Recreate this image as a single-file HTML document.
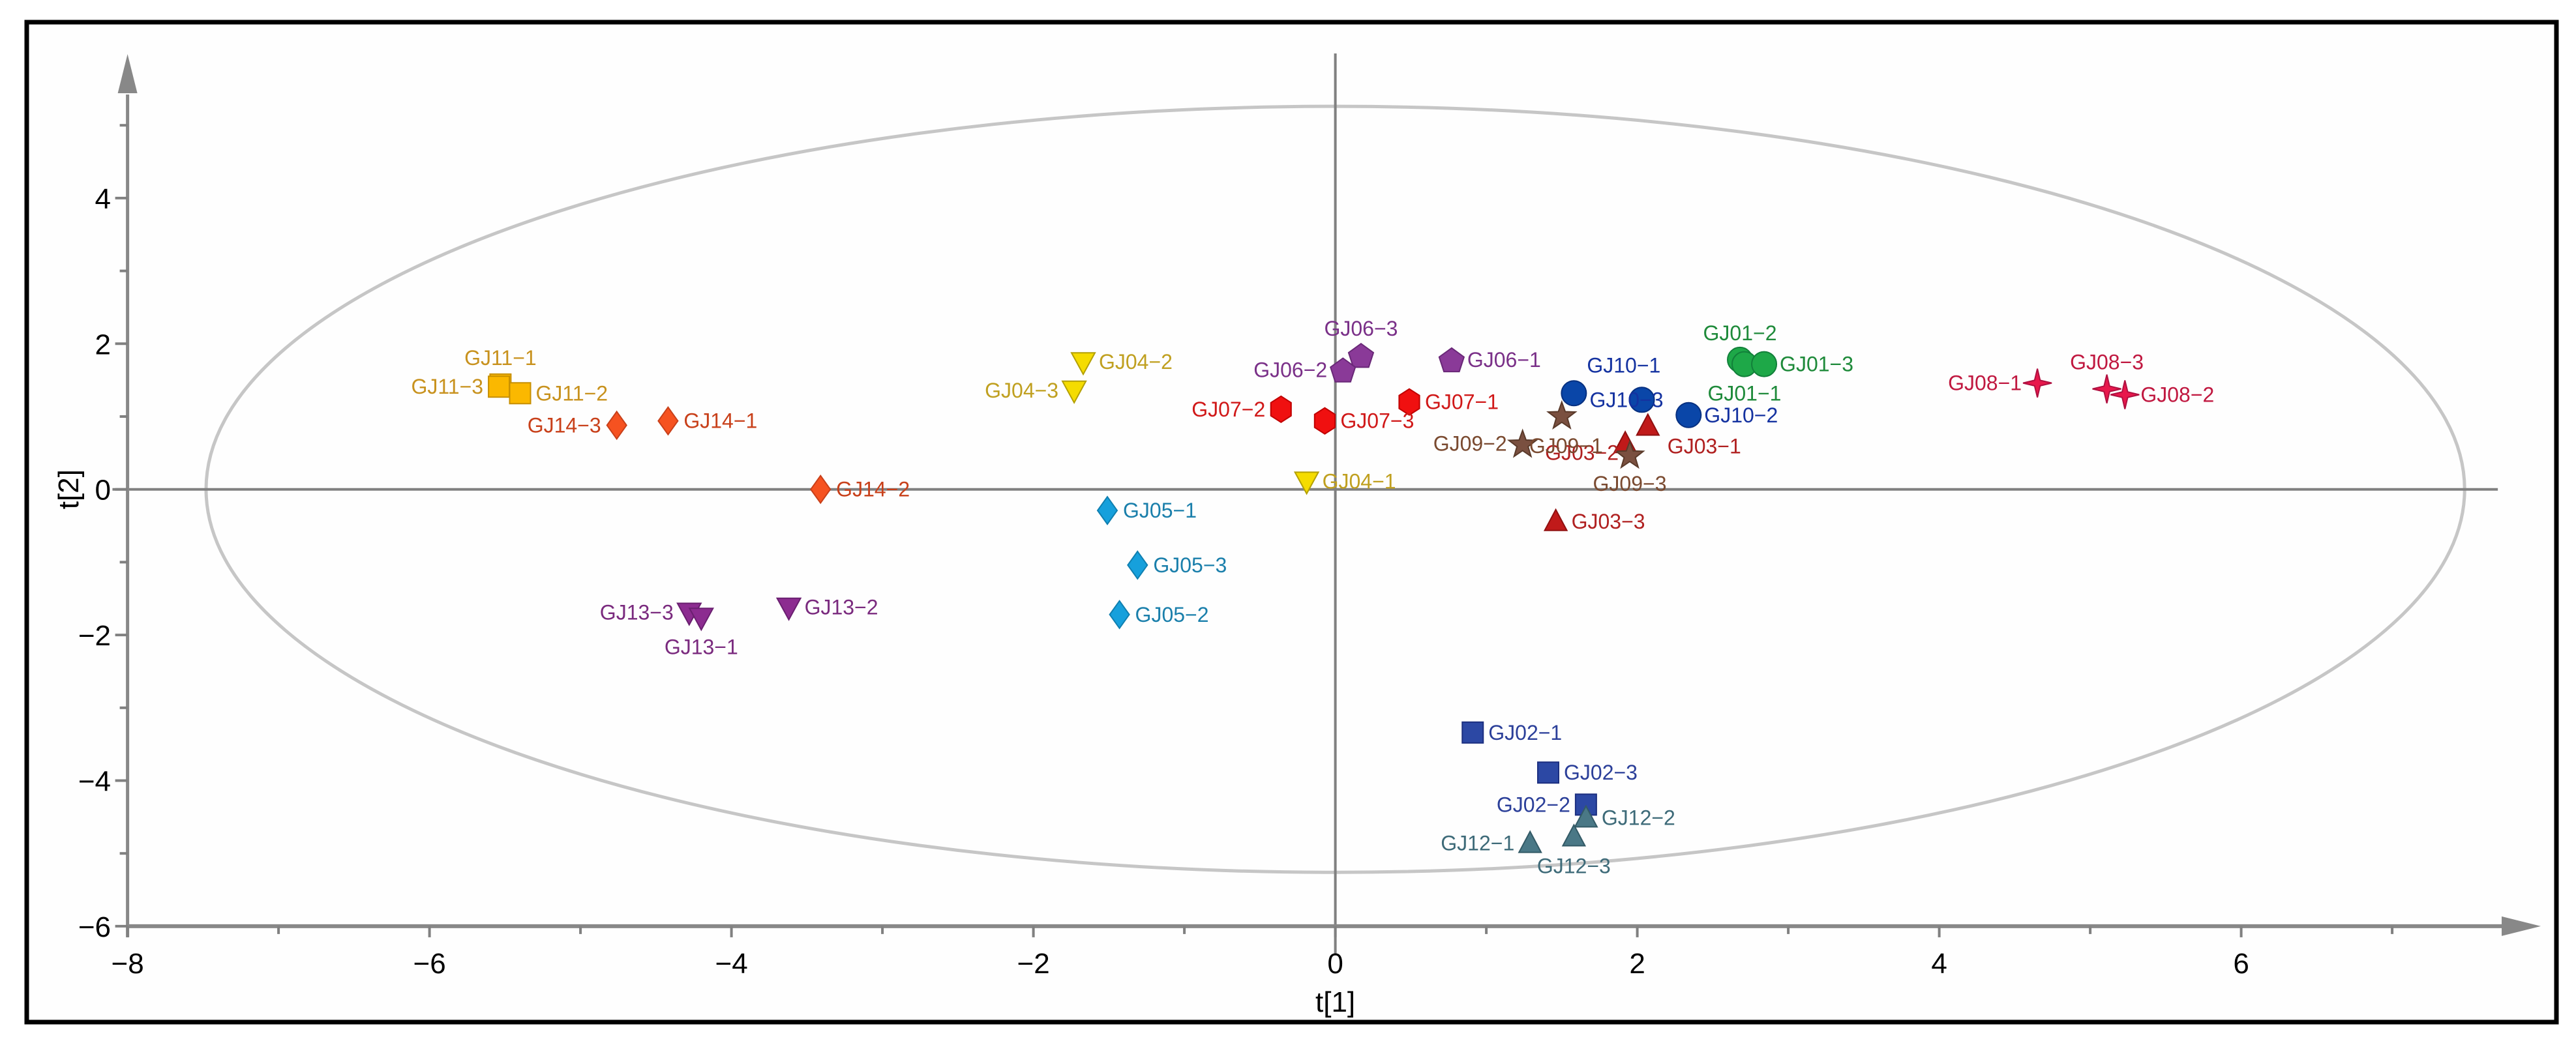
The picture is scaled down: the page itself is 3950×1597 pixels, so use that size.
<!DOCTYPE html>
<html><head><meta charset="utf-8"><title>PCA score plot</title>
<style>html,body{margin:0;padding:0;background:#fff;}svg{display:block;}</style>
</head><body>
<svg id="chart" xmlns="http://www.w3.org/2000/svg" width="3950" height="1597" viewBox="0 0 3950 1597" font-family="'Liberation Sans', sans-serif">
<rect x="41" y="34" width="3879" height="1534" fill="#fefefe" stroke="#000" stroke-width="7"/>
<g id="axes"></g>
<g id="marks"></g>
</svg>
<script>
const names = ["GJ11-1","GJ11-3","GJ11-2","GJ14-3","GJ14-1","GJ14-2","GJ13-3","GJ13-1","GJ13-2","GJ05-1","GJ05-3","GJ05-2","GJ04-2","GJ04-3","GJ04-1","GJ07-2","GJ07-3","GJ07-1","GJ06-3","GJ06-2","GJ06-1","GJ10-1","GJ10-3","GJ10-2","GJ01-2","GJ01-1","GJ01-3","GJ08-1","GJ08-3","GJ08-2","GJ03-1","GJ03-2","GJ03-3","GJ09-1","GJ09-2","GJ09-3","GJ02-1","GJ02-3","GJ02-2","GJ12-2","GJ12-3","GJ12-1"];
const t1 = [-5.53,-5.54,-5.40,-4.76,-4.42,-3.41,-4.28,-4.20,-3.62,-1.51,-1.31,-1.43,-1.67,-1.73,-0.19,-0.36,-0.07,0.49,0.17,0.05,0.77,1.58,2.03,2.34,2.68,2.71,2.84,4.65,5.11,5.23,2.07,1.92,1.46,1.50,1.24,1.95,0.91,1.41,1.66,1.66,1.58,1.29];
const t2 = [1.44,1.41,1.32,0.88,0.94,0.00,-1.69,-1.76,-1.62,-0.29,-1.04,-1.72,1.75,1.36,0.11,1.10,0.94,1.20,1.84,1.64,1.78,1.32,1.23,1.02,1.78,1.72,1.72,1.46,1.38,1.30,0.87,0.63,-0.44,1.02,0.63,0.48,-3.34,-3.89,-4.33,-4.51,-4.77,-4.86];
const xTicks = [-8,-6,-4,-2,0,2,4,6];
const yTicks = [-6,-4,-2,0,2,4];
const ellipseRx = [7.48];
const ellipseRy = [5.26];

const groupStyle = {
 GJ11:{shape:"square",fill:"#fbb800",stroke:"#c78f00",text:"#c8921e"},
 GJ14:{shape:"diamond",fill:"#f65220",stroke:"#c8401a",text:"#c8401a"},
 GJ13:{shape:"tridown",fill:"#8c2c90",stroke:"#6a1f70",text:"#7a2a7e"},
 GJ05:{shape:"diamond",fill:"#16a0dc",stroke:"#0f7fb0",text:"#1a7fab"},
 GJ04:{shape:"tridown",fill:"#f5dc00",stroke:"#b4a000",text:"#c0a020"},
 GJ07:{shape:"hexagon",fill:"#f01010",stroke:"#c00000",text:"#d01818"},
 GJ06:{shape:"pentagon",fill:"#8a3a98",stroke:"#6a2878",text:"#7a3088"},
 GJ10:{shape:"circle",fill:"#0a46a8",stroke:"#073080",text:"#1432a0"},
 GJ01:{shape:"circle",fill:"#1ea848",stroke:"#12803a",text:"#1e8a3a"},
 GJ08:{shape:"star4",fill:"#e8184c",stroke:"#b01040",text:"#c01840"},
 GJ03:{shape:"triup",fill:"#c01a1a",stroke:"#901010",text:"#b02020"},
 GJ09:{shape:"star5",fill:"#7a5040",stroke:"#5a3a2a",text:"#7a4a30"},
 GJ02:{shape:"square",fill:"#2c48a4",stroke:"#1c2f80",text:"#2b3f99"},
 GJ12:{shape:"triup",fill:"#4a7886",stroke:"#335a66",text:"#3d6a78"}
};
const labelPlace = {"GJ11-1":"t","GJ11-3":"l","GJ14-3":"l","GJ13-3":"l","GJ13-1":"b","GJ04-3":"l","GJ07-2":"l","GJ06-3":"t","GJ06-2":"l","GJ10-1":"tr","GJ10-3":"g","GJ01-2":"t","GJ01-1":"b","GJ08-1":"l","GJ08-3":"t","GJ09-2":"l","GJ09-3":"b","GJ02-2":"l","GJ12-3":"b","GJ12-1":"l","GJ03-1":"br","GJ03-2":"l2","GJ09-1":"bl"};

const X0=2047.6, XS=231.5, Y0=750.7, YS=111.7;
const X = v => X0 + v*XS;
const Y = v => Y0 - v*YS;
const NS="http://www.w3.org/2000/svg";
const axes=document.getElementById('axes'), marks=document.getElementById('marks');
function mk(tag, attrs, parent){const e=document.createElementNS(NS,tag);for(const k in attrs)e.setAttribute(k,attrs[k]);parent.appendChild(e);return e;}

let el=mk('ellipse',{cx:X(0),cy:Y(0),rx:ellipseRx[0]*XS,ry:ellipseRy[0]*YS,fill:"none",stroke:"#c6c6c6","stroke-width":5},axes);


let vl=mk('line',{x1:X(0),y1:82,x2:X(0),y2:Y(-6.4),stroke:"#808080","stroke-width":4},axes);


let hl=mk('line',{x1:X(-8.1),y1:Y(0),x2:X(7.7),y2:Y(0),stroke:"#808080","stroke-width":4},axes);


let xa=mk('line',{x1:X(-8),y1:Y(-6),x2:3840,y2:Y(-6),stroke:"#888","stroke-width":6},axes);


let xh=mk('polygon',{points:`3836,${Y(-6)-15} 3896,${Y(-6)} 3836,${Y(-6)+15}`,fill:"#888"},axes);


let ya=mk('line',{x1:X(-8),y1:Y(-6)+17,x2:X(-8),y2:145,stroke:"#888","stroke-width":5},axes);


let yh=mk('polygon',{points:`${X(-8)-15},143 ${X(-8)},83 ${X(-8)+15},143`,fill:"#888"},axes);


for(let v=-8; v<=7; v++){
  const major = xTicks.includes(v);
  let tk=mk('line',{x1:X(v),y1:Y(-6),x2:X(v),y2:Y(-6)+(major?17:12),stroke:"#808080","stroke-width":4},axes);
  
  
}
xTicks.forEach(v=>{
  let t=mk('text',{x:X(v),y:1493,"font-size":44,"text-anchor":"middle",fill:"#000"},axes);
  t.textContent=(v<0?"\u2212":"")+Math.abs(v);
  
  
});
for(let v=-6; v<=5; v++){
  const major = yTicks.includes(v);
  let tk=mk('line',{x1:X(-8)-(major?19:12),y1:Y(v),x2:X(-8),y2:Y(v),stroke:"#808080","stroke-width":4},axes);
  
  
}
yTicks.forEach(v=>{
  let t=mk('text',{x:170,y:Y(v)+16,"font-size":44,"text-anchor":"end",fill:"#000"},axes);
  t.textContent=(v<0?"\u2212":"")+Math.abs(v);
  
  
});
let xt=mk('text',{x:X(0),y:1552,"font-size":44,"text-anchor":"middle",fill:"#000"},axes);
xt.textContent="t[1]";


let yt=mk('text',{x:0,y:0,"font-size":44,"text-anchor":"middle",fill:"#000",transform:`translate(120,${Y(0)}) rotate(-90)`},axes);
yt.textContent="t[2]";



function shapePath(shape,cx,cy){
  let pts=[];
  if(shape==="square") return {tag:'rect',a:{x:cx-16,y:cy-16,width:32,height:32}};
  if(shape==="circle") return {tag:'circle',a:{cx:cx,cy:cy,r:19}};
  if(shape==="diamond") pts=[[cx,cy-21],[cx+15,cy],[cx,cy+21],[cx-15,cy]];
  if(shape==="tridown") pts=[[cx-18,cy-14],[cx+18,cy-14],[cx,cy+19]];
  if(shape==="triup") pts=[[cx-17,cy+14],[cx+17,cy+14],[cx,cy-18]];
  if(shape==="hexagon"){for(let i=0;i<6;i++){const a=Math.PI/2+i*Math.PI/3;pts.push([cx+18*Math.cos(a),cy-20*Math.sin(a)]);}}
  if(shape==="pentagon"){for(let i=0;i<5;i++){const a=Math.PI/2+i*2*Math.PI/5;pts.push([cx+20*Math.cos(a),cy-20*Math.sin(a)+2]);}}
  if(shape==="star5"){for(let i=0;i<10;i++){const a=Math.PI/2+i*Math.PI/5;const rr=i%2?9:22;pts.push([cx+rr*Math.cos(a),cy-rr*Math.sin(a)+2]);}}
  if(shape==="star4"){for(let i=0;i<8;i++){const a=Math.PI/2+i*Math.PI/4;const rr=i%2?6:22;pts.push([cx+rr*Math.cos(a),cy-rr*Math.sin(a)]);}}
  return {tag:'polygon',a:{points:pts.map(p=>p[0].toFixed(1)+","+p[1].toFixed(1)).join(" ")}};
}

names.forEach((n,i)=>{
  const st=groupStyle[n.slice(0,4)];
  const cx=X(t1[i]), cy=Y(t2[i]);
  const s=shapePath(st.shape,cx,cy);
  s.a.fill=st.fill; s.a.stroke=st.stroke; s.a["stroke-width"]=2;
  const m=mk(s.tag,s.a,marks);
  
  
});
names.forEach((n,i)=>{
  const st=groupStyle[n.slice(0,4)];
  const cx=X(t1[i]), cy=Y(t2[i]);
  const p=labelPlace[n]||"r";
  let lx=cx+24, ly=cy+11, anchor="start";
  if(p==="l"){lx=cx-24;anchor="end";}
  if(p==="t"){lx=cx;ly=cy-30;anchor="middle";}
  if(p==="tr"){lx=cx+20;ly=cy-32;}
  if(p==="g"){lx=cx-80;ly=cy+11;}
  if(p==="b"){lx=cx;ly=cy+56;anchor="middle";}
  if(p==="br"){lx=cx+30;ly=cy+42;}
  if(p==="l2"){lx=cx-10;ly=cy+25;anchor="end";}
  if(p==="bl"){lx=cx-50;ly=cy+58;}
  const t=mk('text',{x:lx,y:ly,"font-size":32,"text-anchor":anchor,fill:st.text},marks);
  t.textContent=n.replace("-","\u2212");
  
  
});
</script>
</body></html>
